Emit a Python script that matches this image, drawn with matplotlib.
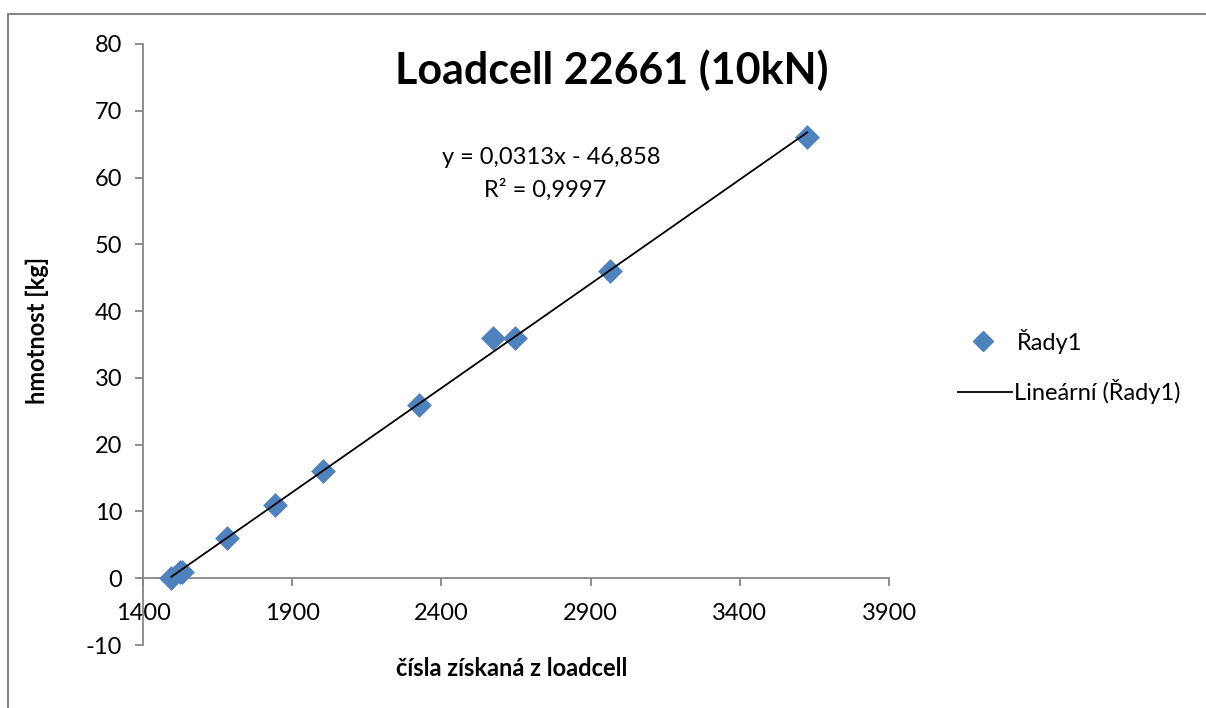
import matplotlib
matplotlib.use('Agg')
import matplotlib.pyplot as plt
from matplotlib.patches import Rectangle
from matplotlib.lines import Line2D
import numpy as np

# readings from the loadcell vs. mass on it
raw = [1495, 1525, 1530, 1680, 1843, 2003, 2326, 2574, 2647, 2965, 3626]
mass = [0, 1, 1, 6, 11, 16, 26, 36, 36, 46, 66]

x_ticks = [1400, 1900, 2400, 2900, 3400, 3900]
y_ticks = [-10, 0, 10, 20, 30, 40, 50, 60, 70, 80]

BLUE = '#4F81BD'
GREY = '#868686'

plt.rcParams['font.family'] = ['Lato', 'DejaVu Sans']
plt.rcParams['axes.unicode_minus'] = False

W, H = 1206, 708
fig = plt.figure(figsize=(W / 100, H / 100), dpi=100)
ax = fig.add_axes([143 / W, 1 - 645 / H, (889 - 143) / W, (645 - 44) / H])

# chart area border (Excel style, cut off at right/bottom)
fig.patches.append(Rectangle((8 / W, -0.2), 1.2, 1.2 - 14 / H, transform=fig.transFigure,
                             fill=False, edgecolor=GREY, linewidth=1.5, clip_on=False))

ax.scatter(raw, mass, marker='D', s=160, color=BLUE, zorder=3, linewidths=0)

k, q = np.polyfit(raw, mass, 1)
xs = np.array([min(raw), max(raw)])
ax.plot(xs, k * xs + q, color='black', linewidth=1.3, zorder=4)

ax.set_xlim(1400, 3900)
ax.set_ylim(-10, 80)
ax.set_xticks(x_ticks)
ax.set_yticks(y_ticks)

ax.spines['right'].set_visible(False)
ax.spines['top'].set_visible(False)
ax.spines['bottom'].set_position(('data', 0))
for s in ['left', 'bottom']:
    ax.spines[s].set_color(GREY)
    ax.spines[s].set_linewidth(1.3)
ax.tick_params(axis='both', direction='out', length=6, width=1.3, color=GREY,
               labelsize=17, labelcolor='black')
ax.tick_params(axis='y', pad=9)
ax.tick_params(axis='x', pad=12)

fig.text(612 / W, 1 - 70 / H, 'Loadcell 22661 (10kN)', fontsize=31, fontweight='bold',
         ha='center', va='center')
fig.text(37 / W, 1 - 330 / H, 'hmotnost [kg]', fontsize=17, fontweight='bold',
         rotation=90, ha='center', va='center')
fig.text(512 / W, 1 - 668 / H, 'čísla získaná z loadcell', fontsize=17, fontweight='bold',
         ha='center', va='center')

fig.text(551 / W, 1 - 157 / H, 'y = 0,0313x - 46,858', fontsize=17, ha='center', va='center')
fig.text(545 / W, 1 - 190 / H, 'R² = 0,9997', fontsize=17, ha='center', va='center')

# legend drawn by hand to match placement
fig.lines.append(Line2D([983 / W], [1 - 341 / H], marker='D', markersize=10, color=BLUE,
                        linestyle='none', transform=fig.transFigure))
fig.text(1017 / W, 1 - 341 / H, 'Řady1', fontsize=17, va='center')
fig.lines.append(Line2D([958 / W, 1012 / W], [1 - 392 / H] * 2, color='black', linewidth=1.3,
                        transform=fig.transFigure))
fig.text(1014 / W, 1 - 392 / H, 'Lineární (Řady1)', fontsize=17, va='center')

fig.savefig('out.png', dpi=100)
